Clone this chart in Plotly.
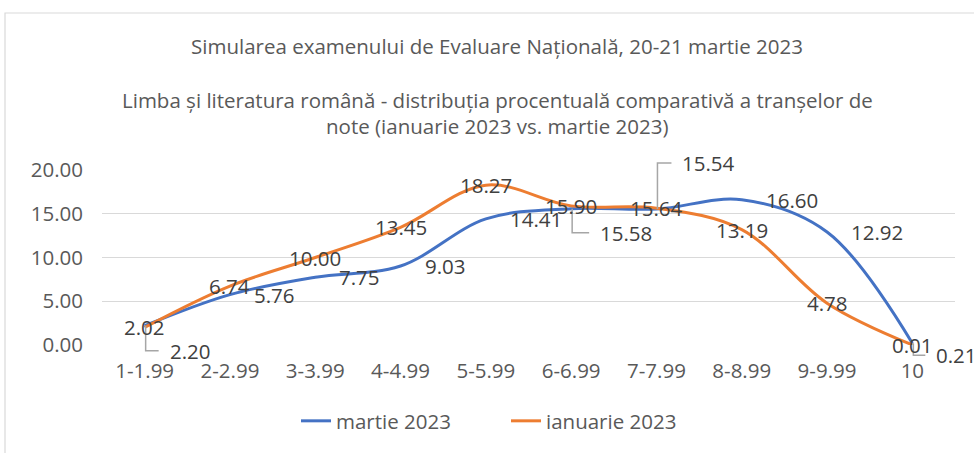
import plotly.graph_objects as go

categories = ["1-1.99", "2-2.99", "3-3.99", "4-4.99", "5-5.99",
              "6-6.99", "7-7.99", "8-8.99", "9-9.99", "10"]
martie_2023 = [2.20, 5.76, 7.75, 9.03, 14.41, 15.58, 15.54, 16.60, 12.92, 0.21]
ianuarie_2023 = [2.02, 6.74, 10.00, 13.45, 18.27, 15.90, 15.64, 13.19, 4.78, 0.01]
y_ticks = [0, 5, 10, 15, 20]

title_1 = "Simularea examenului de Evaluare Națională, 20-21 martie 2023"
title_2 = "Limba și literatura română - distribuția procentuală comparativă a tranșelor de"
title_3 = "note (ianuarie 2023 vs. martie 2023)"

# style
BLUE = "#4472C4"
ORANGE = "#ED7D31"
FONT = "Open Sans"
FS = 20.5
W, H = 974, 453
L, R, T, B = 102, 19, 170, 108
PW, PH = W - L - R, H - T - B
XR = [-0.5, len(categories) - 0.5]
YR = [0, 20]

def px_x(p):
    return (p - L) / PW

def px_y(p):
    return (H - B - p) / PH

# label leader offsets for moved blue labels (index: (dx to left edge, dy up))
leaders = {0: (23, -25), 5: (27, -24), 6: (24, 46), 9: (22, -12)}

xs = list(range(len(categories)))

fig = go.Figure()
fig.add_trace(go.Scatter(x=xs, y=martie_2023, name="martie 2023", mode="lines",
                         line=dict(color=BLUE, width=3, shape="spline", smoothing=1)))
fig.add_trace(go.Scatter(x=xs, y=ianuarie_2023, name="ianuarie 2023", mode="lines",
                         line=dict(color=ORANGE, width=3, shape="spline", smoothing=1)))

annotations = []
shapes = []
lab_font = dict(family=FONT, size=FS, color="#404040")

for i, v in enumerate(ianuarie_2023):
    annotations.append(dict(x=i, y=v, xref="x", yref="y", text=f"{v:.2f}",
                            showarrow=False, xanchor="center", yanchor="middle",
                            font=lab_font))
for i, v in enumerate(martie_2023):
    if i in leaders:
        dx, dy = leaders[i]
        annotations.append(dict(x=i, y=v, xref="x", yref="y", text=f"{v:.2f}",
                                showarrow=False, xanchor="left", yanchor="middle",
                                xshift=dx, yshift=dy, font=lab_font))
        # leader anchored at the data point (converted to plot-area fraction so it is not clipped)
        shapes.append(dict(type="path", xref="paper", yref="paper",
                           xsizemode="pixel", ysizemode="pixel",
                           xanchor=(i - XR[0]) / (XR[1] - XR[0]),
                           yanchor=(v - YR[0]) / (YR[1] - YR[0]),
                           path=f"M 1,0 L 1,{dy} L {dx - 9},{dy}",
                           line=dict(color="#A6A6A6", width=1.5)))
    else:
        annotations.append(dict(x=i, y=v, xref="x", yref="y", text=f"{v:.2f}",
                                showarrow=False, xanchor="left", yanchor="middle",
                                xshift=22, font=lab_font))

title_font = dict(family=FONT, size=FS, color="#595959")
for txt, yy in [(title_1, 46), (title_2, 100), (title_3, 126)]:
    annotations.append(dict(x=px_x(497), y=px_y(yy), xref="paper", yref="paper",
                            text=txt, showarrow=False, xanchor="center",
                            yanchor="middle", font=title_font))

# chart border
shapes.append(dict(type="rect", xref="paper", yref="paper",
                   x0=px_x(5), x1=px_x(990), y0=px_y(470), y1=px_y(13),
                   line=dict(color="#D9D9D9", width=1.2), layer="below"))

fig.update_layout(
    width=W, height=H,
    margin=dict(l=L, r=R, t=T, b=B),
    paper_bgcolor="white", plot_bgcolor="white",
    font=dict(family=FONT, size=FS, color="#595959"),
    showlegend=True,
    legend=dict(orientation="h", x=px_x(296), y=px_y(421), xanchor="left",
                yanchor="middle", font=dict(family=FONT, size=FS, color="#595959"),
                entrywidth=165, entrywidthmode="pixels", tracegroupgap=0),
    annotations=annotations,
    shapes=shapes,
    xaxis=dict(range=XR, tickmode="array", tickvals=xs,
               ticktext=categories, showgrid=False, zeroline=False, showline=False,
               ticks="", ticklabelstandoff=11,
               tickfont=dict(family=FONT, size=FS, color="#595959")),
    yaxis=dict(range=YR, tickmode="array", tickvals=y_ticks,
               ticktext=[f"{t:.2f}" for t in y_ticks], showgrid=True,
               gridcolor="#D9D9D9", gridwidth=1.3, zeroline=False, showline=False,
               ticks="", ticklabelstandoff=18,
               tickfont=dict(family=FONT, size=FS, color="#595959")),
)

fig.write_html("out.html", config={"displayModeBar": False},
               post_script="document.body.style.margin='0';document.body.style.overflow='hidden';")
